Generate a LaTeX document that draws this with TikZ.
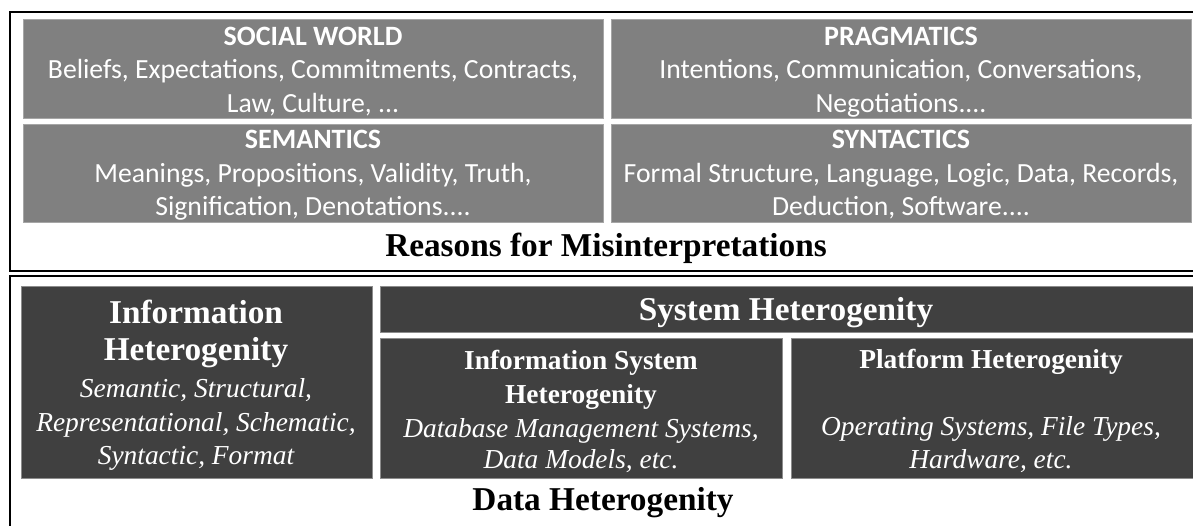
\documentclass[tikz,border=0pt]{standalone}
\usepackage{fontspec}
\setmainfont{Liberation Serif}
\newfontfamily\calfont{Carlito}
\definecolor{midgray}{HTML}{808080}
\definecolor{midedge}{HTML}{A6A6A6}
\definecolor{darkgray}{HTML}{404040}
\definecolor{darkedge}{HTML}{8C8C8C}
\begin{document}
\begin{tikzpicture}[x=1pt,y=-1pt,
  topbox/.style={draw=midedge,line width=0.8pt,fill=midgray},
  botbox/.style={draw=darkedge,line width=0.8pt,fill=darkgray},
  frame/.style={draw=black,line width=1.3pt},
  lab/.style={anchor=base,inner sep=0pt,outer sep=0pt},
  tophead/.style={lab,text=white,font=\calfont\bfseries\fontsize{28}{32}\selectfont},
  toptext/.style={lab,text=white,font=\calfont\fontsize{27.7}{32}\selectfont},
  bighead/.style={lab,text=white,font=\bfseries\fontsize{33.3}{38}\selectfont},
  midhead/.style={lab,text=white,font=\bfseries\fontsize{27.4}{32}\selectfont},
  ittext/.style={lab,text=white,font=\itshape\fontsize{27.4}{32}\selectfont},
  caption/.style={lab,text=black,font=\bfseries\fontsize{33.3}{38}\selectfont}]
\useasboundingbox (0,0) rectangle (1193,525);
\clip (0,0) rectangle (1193,525);
% frames
\draw[frame] (1200,12) -- (10,12) -- (10,271) -- (1200,271);
\draw[frame] (1200,276) -- (10,276) -- (10,540);
% top boxes
\path[topbox] (23,19) rectangle (603,118);
\path[topbox] (611,19) rectangle (1191,118);
\path[topbox] (23,124) rectangle (603,222);
\path[topbox] (611,124) rectangle (1191,222);
\node[tophead] (sw1) at (313,45) {SOCIAL WORLD};
\node[toptext] (sw2) at (313,78) {Beliefs, Expectations, Commitments, Contracts,};
\node[toptext] (sw3) at (313,112) {Law, Culture, ...};
\node[tophead] (pr1) at (901,45) {PRAGMATICS};
\node[toptext] (pr2) at (901,78) {Intentions, Communication, Conversations,};
\node[toptext] (pr3) at (901,112) {Negotiations....};
\node[tophead] (se1) at (313,148) {SEMANTICS};
\node[toptext] (se2) at (313,182) {Meanings, Propositions, Validity, Truth,};
\node[toptext] (se3) at (313,215) {Signification, Denotations....};
\node[tophead] (sy1) at (901,148) {SYNTACTICS};
\node[toptext] (sy2) at (901,182) {Formal Structure, Language, Logic, Data, Records,};
\node[toptext] (sy3) at (901,215) {Deduction, Software....};
\node[caption] (t1) at (606,256) {Reasons for Misinterpretations};
% bottom boxes
\path[botbox] (21,286) rectangle (372,478);
\path[botbox] (380,286) rectangle (1196,332);
\path[botbox] (380,338) rectangle (782,478);
\path[botbox] (791,338) rectangle (1196,478);
\node[bighead] (ih1) at (196,323) {Information};
\node[bighead] (ih2) at (196,360) {Heterogenity};
\node[ittext] (ih3) at (196,397) {Semantic, Structural,};
\node[ittext] (ih4) at (196,431) {Representational, Schematic,};
\node[ittext] (ih5) at (196,464) {Syntactic, Format};
\node[bighead] (sh1) at (786,320) {System Heterogenity};
\node[midhead] (is1) at (581,369) {Information System};
\node[midhead] (is2) at (581,403) {Heterogenity};
\node[ittext] (is3) at (581,437) {Database Management Systems,};
\node[ittext] (is4) at (581,468) {Data Models, etc.};
\node[midhead] (ph1) at (991,368) {Platform Heterogenity};
\node[ittext] (ph2) at (991,435) {Operating Systems, File Types,};
\node[ittext] (ph3) at (991,468) {Hardware, etc.};
\node[caption] (t2) at (603,510) {Data Heterogenity};
\end{tikzpicture}
\end{document}
